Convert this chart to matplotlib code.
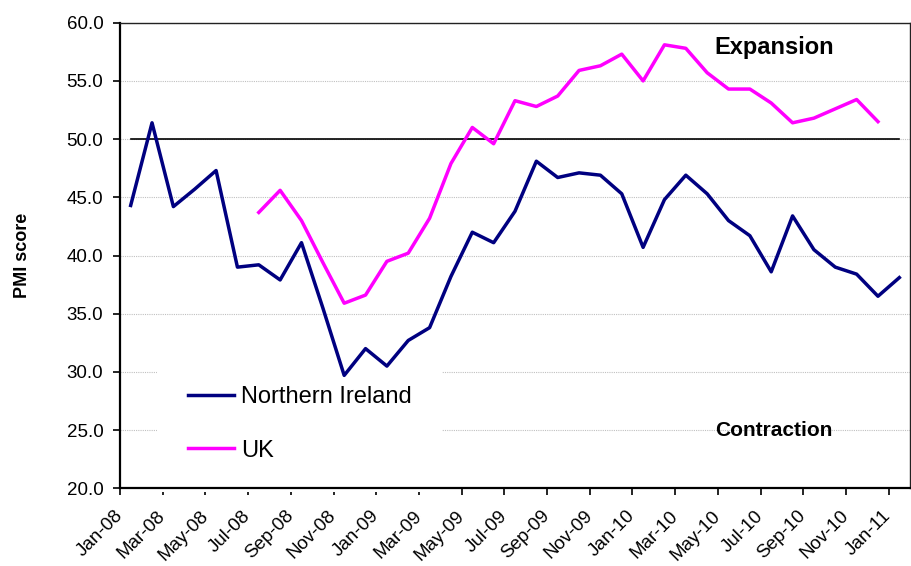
import matplotlib
matplotlib.use("Agg")
import matplotlib.pyplot as plt

months = [
    "Jan-08", "Feb-08", "Mar-08", "Apr-08", "May-08", "Jun-08",
    "Jul-08", "Aug-08", "Sep-08", "Oct-08", "Nov-08", "Dec-08",
    "Jan-09", "Feb-09", "Mar-09", "Apr-09", "May-09", "Jun-09",
    "Jul-09", "Aug-09", "Sep-09", "Oct-09", "Nov-09", "Dec-09",
    "Jan-10", "Feb-10", "Mar-10", "Apr-10", "May-10", "Jun-10",
    "Jul-10", "Aug-10", "Sep-10", "Oct-10", "Nov-10", "Dec-10",
    "Jan-11",
]

northern_ireland = [
    44.3, 51.4, 44.2, 45.7, 47.3, 39.0, 39.2, 37.9, 41.1, 35.5, 29.7, 32.0,
    30.5, 32.7, 33.8, 38.2, 42.0, 41.1, 43.8, 48.1, 46.7, 47.1, 46.9, 45.3,
    40.7, 44.8, 46.9, 45.3, 43.0, 41.7, 38.6, 43.4, 40.5, 39.0, 38.4, 36.5,
    38.1,
]

# UK series only covers Jul-08 .. Dec-10
uk_start = "Jul-08"
uk = [
    43.7, 45.6, 43.0, 39.4, 35.9, 36.6,
    39.5, 40.2, 43.2, 47.9, 51.0, 49.6, 53.3, 52.8, 53.7, 55.9, 56.3, 57.3,
    55.0, 58.1, 57.8, 55.7, 54.3, 54.3, 53.1, 51.4, 51.8, 52.6, 53.4, 51.5,
]

threshold = 50.0
y_ticks = [20, 25, 30, 35, 40, 45, 50, 55, 60]
x_tick_labels = months[::2]

plt.rcParams["font.family"] = ["Liberation Sans", "DejaVu Sans"]

fig = plt.figure(figsize=(9.11, 5.66), dpi=100)
ax = fig.add_axes([120 / 911, 1 - 488.3 / 566, 790 / 911, 465.6 / 566])

x_all = list(range(len(months)))
i0 = months.index(uk_start)
x_uk = list(range(i0, i0 + len(uk)))

ax.plot(x_all, [threshold] * len(months), color="black", lw=1.2, zorder=2)
ax.plot(x_all, northern_ireland, color="#000080", lw=2.5, label="Northern Ireland", zorder=3)
ax.plot(x_uk, uk, color="#ff00ff", lw=2.5, label="UK", zorder=3)

ax.set_xlim(-0.5, len(months) - 0.5)
ax.set_ylim(20, 60)
ax.set_yticks(y_ticks)
ax.set_yticklabels([f"{v:.1f}" for v in y_ticks], fontsize=13.5)
ax.set_xticks([i - 0.5 for i in range(0, len(months), 2)])
ax.set_xticklabels(x_tick_labels, fontsize=13.5, rotation=45, ha="right",
                   va="center", rotation_mode="anchor")
ax.tick_params(axis="both", direction="out", length=5, width=1.2, color="black")
ax.tick_params(axis="x", pad=13)
ax.tick_params(axis="y", pad=7)

ax.set_axisbelow(True)
ax.yaxis.grid(True, color="#c0c0c0", linestyle=(0, (1, 1)), lw=0.8)
for side in ["left", "bottom"]:
    ax.spines[side].set_linewidth(1.6)
for side in ["top", "right"]:
    ax.spines[side].set_linewidth(1.0)
    ax.spines[side].set_color("#222222")

leg = ax.legend(loc="upper left", bbox_to_anchor=(0.0468, 0.285), fontsize=17,
                frameon=True, facecolor="white", edgecolor="none", framealpha=1,
                fancybox=False, borderpad=1.3, handlelength=1.95,
                handletextpad=0.3, labelspacing=1.33, borderaxespad=0)
leg.set_zorder(1)

ax.text(0.753, 0.946, "Expansion", transform=ax.transAxes, fontsize=17,
        fontweight="bold", ha="left", va="center")
ax.text(0.753, 0.1235, "Contraction", transform=ax.transAxes, fontsize=15,
        fontweight="bold", ha="left", va="center")

fig.text(22.5 / 911, 1 - 255.5 / 566, "PMI score", rotation=90, fontsize=13,
         fontweight="bold", ha="center", va="center")

fig.savefig("out.png", dpi=100)
